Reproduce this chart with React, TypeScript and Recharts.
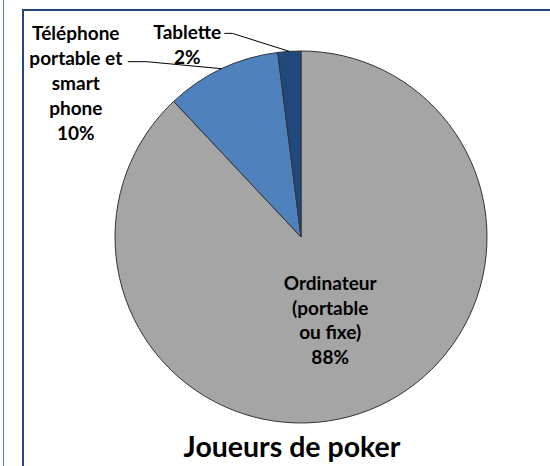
import { Cell, Pie, PieChart } from 'recharts';

// Share of poker players by device
const categories = ['Ordinateur (portable ou fixe)', 'Téléphone portable et smart phone', 'Tablette'];
const shares = [88, 10, 2];
// how each category name wraps in the picture
const labelLines = [
  ['Ordinateur', '(portable', 'ou fixe)'],
  ['Téléphone', 'portable et', 'smart', 'phone'],
  ['Tablette'],
];

const COLORS = ['#a5a5a5', '#4f81bd', '#1f497d'];
const FONT = 'Lato, "Open Sans", sans-serif';
const LINE_H = 25;
const RADIAN = Math.PI / 180;

const data = categories.map((name, i) => ({ name, value: shares[i], lines: labelLines[i] }));

// label placement relative to the slice's outer edge at its mid angle
// (null means placed inside the slice)
const OUTSIDE = [
  null,
  { tx: -146, ty: -29, elbowX: -75, elbowY: -7, endX: -94 },
  { tx: -102, ty: -12, elbowX: -57, elbowY: -18, endX: -65 },
];

interface LabelProps {
  cx: number;
  cy: number;
  midAngle: number;
  outerRadius: number;
  index: number;
  value: number;
}

function SliceLabel({ cx, cy, midAngle, outerRadius, index, value }: LabelProps) {
  const lines = [...labelLines[index], `${value}%`];
  const cos = Math.cos(-midAngle * RADIAN);
  const sin = Math.sin(-midAngle * RADIAN);
  const layout = OUTSIDE[index];

  if (!layout) {
    const x = cx + outerRadius * 0.47 * cos - 3;
    const y = cy + outerRadius * 0.47 * sin - 28;
    return (
      <text x={x} y={y} textAnchor="middle" fontFamily={FONT} fontWeight={700} fontSize={19} fill="#000">
        {lines.map((l, i) => (
          <tspan key={i} x={x} y={y + i * 24.5}>
            {l}
          </tspan>
        ))}
      </text>
    );
  }

  const ex = cx + outerRadius * cos;
  const ey = cy + outerRadius * sin;
  const x = ex + layout.tx;
  const y = ey + layout.ty;
  const elbow = `${ex + layout.elbowX},${ey + layout.elbowY}`;
  const end = `${ex + layout.endX},${ey + layout.elbowY}`;

  return (
    <g>
      <polyline points={`${ex},${ey} ${elbow} ${end}`} fill="none" stroke="#000" strokeWidth={1} />
      <text x={x} y={y} textAnchor="middle" fontFamily={FONT} fontWeight={700} fontSize={19} fill="#000">
        {lines.map((l, i) => (
          <tspan key={i} x={x} y={y + i * LINE_H}>
            {l}
          </tspan>
        ))}
      </text>
    </g>
  );
}

export default function App() {
  return (
    <div style={{ position: 'absolute', left: 0, top: 0, width: 550, height: 466, overflow: 'hidden', background: '#fff' }}>
      <div style={{ position: 'absolute', left: 3, top: 0, width: 1, height: 466, background: '#5a7cb0' }} />
      <div style={{ position: 'absolute', left: 22, top: 9, width: 540, height: 470, borderLeft: '2px solid #24467e', borderTop: '2px solid #24467e' }} />
      <PieChart width={550} height={466} margin={{ top: 0, right: 0, bottom: 0, left: 0 }} style={{ position: 'absolute', left: 0, top: 0 }}>
        <Pie
          data={data}
          dataKey="value"
          nameKey="name"
          cx={301}
          cy={237}
          outerRadius={186}
          startAngle={90}
          endAngle={-270}
          stroke="#333"
          strokeWidth={1}
          labelLine={false}
          label={SliceLabel}
          isAnimationActive={false}
        >
          {data.map((d, i) => (
            <Cell key={d.name} fill={COLORS[i]} />
          ))}
        </Pie>
      </PieChart>
      <div
        style={{
          position: 'absolute',
          left: 22,
          width: 540,
          top: 431,
          textAlign: 'center',
          fontFamily: FONT,
          fontWeight: 700,
          fontSize: 28.5,
          lineHeight: '30px',
          color: '#000',
        }}
      >
        Joueurs de poker
      </div>
    </div>
  );
}
